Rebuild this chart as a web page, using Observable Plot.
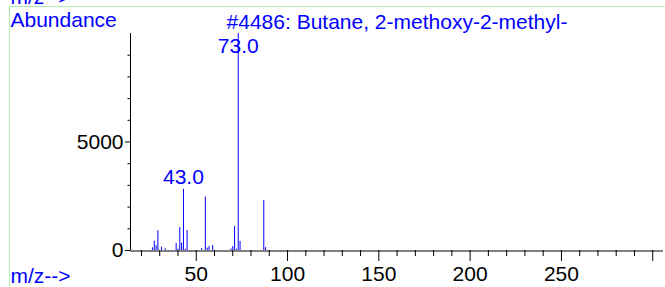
<!DOCTYPE html>
<html><head><meta charset="utf-8">
<script src="https://cdn.jsdelivr.net/npm/d3@7"></script>
<script src="https://cdn.jsdelivr.net/npm/@observablehq/plot@0.6"></script>
<style>
html,body{margin:0;padding:0;background:#fff;}
#chart{position:relative;width:665px;height:287px;overflow:hidden;}
</style>
</head><body><div id="chart"></div>
<script>
// Spectrum peaks (m/z, abundance)
const mz =        [26, 27, 28, 29, 31, 33, 39, 40, 41,   42,  43,   44, 45,  53, 55,   56,  57,  59,  69, 70,  71,   72, 73,   74,  87,   88];
const abundance = [120,430,220,910,150,80, 320,60, 1060, 340, 2820, 60, 920, 90, 2460, 110, 190, 230, 70, 180, 1110, 60, 9999, 420, 2310, 130];

// Labelled peaks
const labelMz = [43, 73];
const labelText = ["43.0", "73.0"];

// Axis ticks
const xMajorTicks = [50, 100, 150, 200, 250, 300];
const xMinorTicks = [20, 30, 40, 60, 70, 80, 90, 110, 120, 130, 140, 160, 170, 180, 190, 210, 220, 230, 240, 260, 270, 280, 290];
const yMajorTicks = [0, 5000];
const yMinorTicks = [1000, 2000, 3000, 4000, 6000, 7000, 8000, 9000];

// Texts
const titleText = "#4486: Butane, 2-methoxy-2-methyl-";
const yLabelText = "Abundance";
const xLabelText = "m/z-->";

const blue = "#0000ff";
const peaks = mz.map((m, i) => ({mz: m, ab: abundance[i]}));
const labels = labelMz.map((m, i) => ({mz: m, ab: abundance[mz.indexOf(m)], text: labelText[i]}));

const plot = Plot.plot({
  width: 665,
  height: 287,
  marginLeft: 130,
  marginRight: 2,
  marginTop: 33,
  marginBottom: 37,
  style: {fontFamily: "'Liberation Sans', Arial, sans-serif", fontSize: "21px", background: "white"},
  x: {domain: [14, 305.9], axis: null},
  y: {domain: [0, 10000], axis: null},
  marks: [
    Plot.ruleX(peaks, {x: "mz", y1: 0, y2: "ab", stroke: blue, strokeWidth: 1}),
    Plot.ruleX([14], {y1: 0, y2: 10000, stroke: "black"}),
    Plot.ruleY([0], {stroke: "black", dy: 0.5}),
    Plot.axisX(xMajorTicks, {label: null, tickSize: 11, tickPadding: 5, tickFormat: d => d === 300 ? "" : String(d), fill: "black", stroke: "black"}),
    Plot.axisX(xMinorTicks, {label: null, tickSize: 6, tickFormat: () => "", stroke: "black"}),
    Plot.axisY(yMajorTicks, {label: null, tickSize: 5, tickPadding: 2, tickFormat: d => String(d), fill: "black", stroke: "black"}),
    Plot.axisY(yMinorTicks, {label: null, tickSize: 2.5, tickFormat: () => "", stroke: "black"}),
    Plot.text(labels, {x: "mz", y: d => Math.min(d.ab, 8860), text: "text", lineAnchor: "bottom", dy: -5, fill: blue}),
    Plot.text([titleText], {frameAnchor: "top", lineAnchor: "bottom", dy: -5, fill: blue}),
    Plot.text([yLabelText], {frameAnchor: "top-left", textAnchor: "start", lineAnchor: "bottom", dx: -120, dy: -7, fill: blue}),
    Plot.text([xLabelText], {frameAnchor: "bottom-left", textAnchor: "start", lineAnchor: "bottom", dx: -120, dy: 32, fill: blue}),
    Plot.text([xLabelText], {frameAnchor: "top-left", textAnchor: "start", lineAnchor: "bottom", dx: -120, dy: -30, fill: blue})
  ]
});

// light green page frame
d3.select(plot).append("rect")
  .attr("x", 9.5).attr("y", 6.5).attr("width", 700).attr("height", 300)
  .attr("fill", "none").attr("stroke", "#aaf0aa").attr("stroke-width", 1);

document.getElementById("chart").appendChild(plot);
</script>
</body></html>
